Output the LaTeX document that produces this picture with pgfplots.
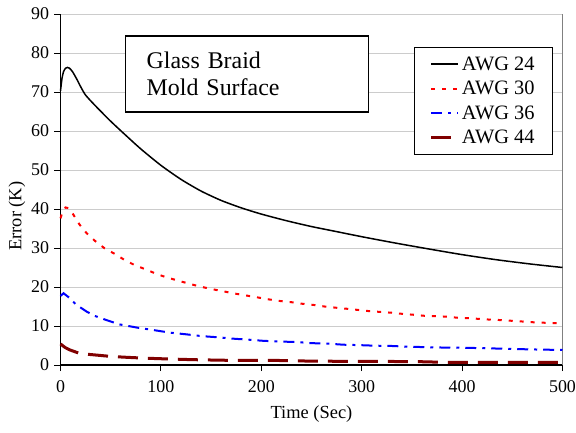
\documentclass[border=0pt]{standalone}
\usepackage{pgfplots}
\pgfplotsset{compat=1.18}
\usepackage{fontspec}
\setmainfont{Liberation Serif}
\definecolor{darkred}{HTML}{800000}
\begin{document}
\begin{tikzpicture}[x=1bp,y=1bp]
\begin{pgfinterruptboundingbox}
\begin{axis}[
  name=ax,
  scale only axis, width=502bp, height=351bp,
  xmin=0, xmax=500, ymin=0, ymax=90,
  xtick={0,100,...,500}, ytick={0,10,...,90},
  axis x line*=bottom, axis y line*=left,
  axis line style={black, line width=1.2bp},
  tick align=outside, major tick length=6bp,
  tick style={black, line width=1bp},
  ymajorgrids, grid style={line width=0.9bp, color=black!20},
  /pgf/number format/assume math mode=true,
  ticklabel style={font=\fontsize{18}{20}\selectfont},
  xticklabel style={anchor=north, yshift=-6bp},
  yticklabel style={anchor=east, xshift=-2bp},
  xlabel={Time (Sec)}, ylabel={Error (K)},
  label style={font=\fontsize{18.5}{20}\selectfont},
  xlabel style={at={(axis description cs:0.5,-0.14)}, anchor=center},
  ylabel style={at={(axis description cs:-0.0867,0.424)}, anchor=center},
  legend style={at={(axis cs:490.5,81.5)}, anchor=north east, draw=black, line width=0.8bp,
    font=\fontsize{20.5}{22}\selectfont, inner xsep=16bp, inner ysep=7bp, row sep=5.5bp,
    cells={anchor=west}},
  legend image code/.code={\draw[#1] (0bp,0bp) -- (27bp,0bp);},
  clip=false,
]
\coordinate (ll) at (axis cs:0,0);
\draw[black!50, line width=1.5bp] (axis cs:500,0) -- (axis cs:500,90);
\addplot[black, line width=1.5bp, smooth, tension=0.4] coordinates {
(0,70.3) (1.5,73.5) (3,75.2) (5,76.1) (7,76.3) (9,76.1) (12,75.2) (16,73.4)
(20,71.4) (25,69.2) (35,66.4) (50,62.5) (65,58.9) (80,55.4) (100,51.2) (120,47.6)
(140,44.6) (160,42.2) (180,40.3) (200,38.7) (225,37.0) (250,35.5) (275,34.2)
(300,32.9) (335,31.2) (368,29.7) (400,28.3) (434,27.0) (468,25.9) (500,25.0)
};
\addlegendentry{AWG 24}
\addplot[red, line width=2bp, dash pattern=on 4bp off 7bp] coordinates {
(0,37.6) (2,39.3) (5,40.4) (8,40.2) (12.7,38.6) (19,36.0) (26,33.8) (34,31.9)
(44,29.9) (54,28.5) (64,26.9) (74,25.6) (86,24.4) (97,23.2) (108,22.3) (119,21.5)
(130,20.7) (141,20.0) (152,19.4) (162,18.9) (174,18.3) (185.5,17.8) (197,17.3)
(208,16.8) (219,16.4) (230,16.1) (241,15.7) (252,15.4) (263,15.0) (274,14.7)
(286,14.4) (297,14.1) (308,13.8) (319,13.6) (330,13.4) (341,13.1) (351,12.9)
(363,12.6) (374,12.5) (385,12.4) (396,12.1) (407,12.0) (418,11.8) (430,11.6)
(441,11.5) (451,11.3) (463,11.1) (474,10.9) (486,10.8) (500,10.7)
};
\addlegendentry{AWG 30}
\addplot[blue, line width=2bp, dash pattern=on 11bp off 6bp on 3bp off 6bp] coordinates {
(0,17.7) (3,18.4) (8,17.4) (16,15.4) (26,13.7) (34,12.6) (46,11.5) (59,10.4)
(76,9.6) (94,8.9) (109,8.3) (124,7.9) (141,7.4) (157,7.1) (172,6.75) (187,6.5)
(202,6.2) (220,6.0) (235,5.9) (250,5.6) (265,5.5) (282,5.2) (297,5.1) (313,4.95)
(328,4.9) (345,4.7) (375,4.5) (406,4.4) (438,4.2) (468,4.0) (500,3.85)
};
\addlegendentry{AWG 36}
\addplot[darkred, line width=3bp, dash pattern=on 20bp off 10bp] coordinates {
(0,5.4) (4.5,4.5) (9.5,3.85) (17.7,3.1) (25,2.8) (37.6,2.5) (50,2.2) (66,1.97)
(80,1.8) (97,1.63) (131,1.37) (162,1.22) (192,1.18) (222,1.15) (251,0.98)
(283,0.95) (315,0.93) (358,0.85) (381,0.7) (406,0.68) (436,0.68) (466,0.67) (500,0.66)
};
\addlegendentry{AWG 44}
\node[draw=black, fill=white, line width=1.5bp, anchor=north west, text width=201bp,
  inner xsep=21bp, minimum height=76bp, align=left,
  font=\fontsize{24}{28}\selectfont] at (axis cs:64.2,84.6) {Glass Braid\\Mold Surface};
\end{axis}
\end{pgfinterruptboundingbox}
\path[use as bounding box] (ll) ++(-60.5bp,-68bp) rectangle ++(576bp,433bp);
\end{tikzpicture}
\end{document}
